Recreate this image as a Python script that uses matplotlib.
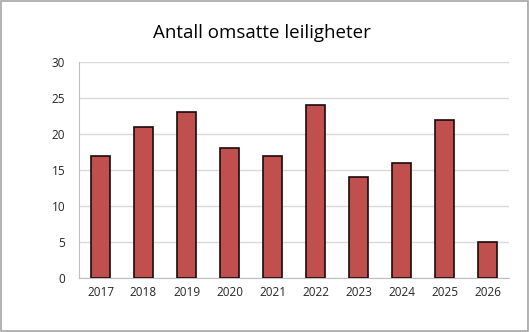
import matplotlib
matplotlib.use("Agg")
from matplotlib import pyplot as plt
from matplotlib.patches import Rectangle

years = ["2017", "2018", "2019", "2020", "2021", "2022", "2023", "2024", "2025", "2026"]
sales = [17, 21, 23, 18, 17, 24, 14, 16, 22, 5]
yticks = [0, 5, 10, 15, 20, 25, 30]

plt.rcParams['font.family'] = ['Open Sans', 'DejaVu Sans']

fig = plt.figure(figsize=(5.29, 3.32), dpi=100)
ax = fig.add_axes([79 / 529, 1 - 278 / 332, 430 / 529, 216 / 332])

ax.bar(range(len(years)), sales, width=0.42, color='#C0504D',
       edgecolor='#1a0a0a', linewidth=1.2, zorder=3)
ax.set_xlim(-0.5, len(years) - 0.5)
ax.set_ylim(0, 30)
ax.set_yticks(yticks)
ax.set_xticks(range(len(years)))
ax.set_xticklabels(years)
ax.tick_params(labelsize=8.5, length=0, colors='#262626', pad=6)
ax.tick_params(axis='y', pad=10)
ax.grid(axis='y', color='#d9d9d9', linewidth=1, zorder=0)
for s in ['top', 'right']:
    ax.spines[s].set_visible(False)
for s in ['left', 'bottom']:
    ax.spines[s].set_color('#bfbfbf')

fig.text(262 / 529, 1 - 33 / 332, 'Antall omsatte leiligheter', ha='center',
         va='center', fontsize=13.5, color='black')
fig.patches.append(Rectangle((0.001, 0.002), 0.997, 0.995, transform=fig.transFigure,
                             fill=False, edgecolor='#a6a6a6', linewidth=1.2))

fig.savefig('out.png', dpi=100)
